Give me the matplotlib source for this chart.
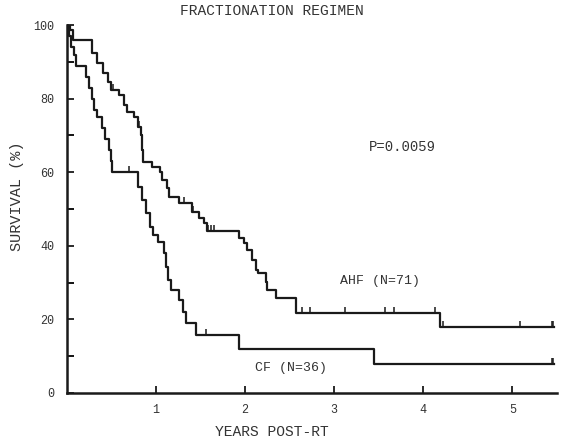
import numpy as np
import matplotlib.pyplot as plt
from matplotlib.path import Path

plt.rcParams['font.family'] = ['Liberation Mono', 'DejaVu Sans']

# step curves: time of each drop (years) and survival level after it (%)
ahf_t = [0.00, 0.03, 0.07, 0.28, 0.34, 0.40, 0.46, 0.50, 0.58, 0.64, 0.67, 0.75,
         0.80, 0.83, 0.84, 0.85, 0.95, 1.04, 1.07, 1.12, 1.15, 1.26, 1.40, 1.48,
         1.54, 1.57, 1.93, 1.99, 2.02, 2.08, 2.12, 2.15, 2.23, 2.25, 2.35, 2.57, 4.19]
ahf_s = [100, 98.6, 96, 92.4, 89.7, 87, 84.5, 82.3, 81, 78.3, 76.4, 75,
         72.3, 70, 66, 62.8, 61.4, 60, 57.9, 55.7, 53.3, 51.6, 49.2, 47.5,
         46.2, 44, 42.1, 40.8, 38.9, 36.1, 33.4, 32.6, 30.2, 28, 25.8, 21.7, 17.9]
ahf_cens = [0.52, 0.81, 1.32, 1.41, 1.58, 1.62, 1.65, 2.64, 2.73, 3.12, 3.57,
            3.67, 4.13, 4.22, 5.09, 5.44, 5.46]

cf_t = [0.00, 0.02, 0.05, 0.08, 0.10, 0.22, 0.25, 0.28, 0.31, 0.34, 0.39, 0.43,
        0.47, 0.50, 0.51, 0.80, 0.84, 0.89, 0.93, 0.97, 1.02, 1.09, 1.11, 1.13,
        1.17, 1.26, 1.30, 1.34, 1.45, 1.93, 3.45]
cf_s = [100, 97, 94, 92, 89, 86, 83, 80, 77, 75, 72, 69,
        66, 63, 60, 56, 52.4, 48.9, 45.1, 43, 41, 38, 34.2, 30.7,
        28, 25.3, 22, 19, 15.8, 12, 7.9]
cf_cens = [0.70, 1.56, 5.44, 5.46]

t_end = 5.47
xticks = [1, 2, 3, 4, 5]
yticks = [0, 20, 40, 60, 80, 100]
yminor = [10, 30, 50, 70, 90]

fig = plt.figure(figsize=(5.62, 4.40), dpi=100)
ax = fig.add_axes([0.119, 0.107, 0.872, 0.836])

up_tick = Path([(0, 0), (0, 1)], [Path.MOVETO, Path.LINETO])


def level_at(t, times, levels):
    i = np.searchsorted(times, t, side='right') - 1
    return levels[i]


for times, levels, cens in [(ahf_t, ahf_s, ahf_cens), (cf_t, cf_s, cf_cens)]:
    ax.step(times + [t_end], levels + [levels[-1]], where='post',
            color='#1a1a1a', lw=1.6)
    cy = [level_at(c, times, levels) for c in cens]
    ax.plot(cens, cy, ls='none', marker=up_tick, ms=9, mew=1.1, color='#1a1a1a')

ax.set_xlim(0, 5.5)
ax.set_ylim(0, 100)
ax.spines['top'].set_visible(False)
ax.spines['right'].set_visible(False)
ax.spines['left'].set_linewidth(1.8)
ax.spines['bottom'].set_linewidth(1.8)
ax.spines['left'].set_color('#1a1a1a')
ax.spines['bottom'].set_color('#1a1a1a')

ax.set_xticks(xticks)
ax.set_yticks(yticks)
ax.set_yticks(yminor, minor=True)
ax.tick_params(axis='both', direction='in', length=5, width=1.3, colors='#1a1a1a',
               labelsize=8.5, labelcolor='#333333')
ax.tick_params(axis='x', pad=8)
ax.tick_params(axis='y', pad=9)
ax.tick_params(axis='y', which='minor', direction='in', length=5, width=1.3)

ax.text(3.39, 66.8, 'P=0.0059', fontsize=10, color='#333333', va='center')
ax.text(3.07, 30.4, 'AHF (N=71)', fontsize=9.5, color='#333333', va='center')
ax.text(2.11, 6.8, 'CF (N=36)', fontsize=9.5, color='#333333', va='center')

fig.text(0.483, 0.975, 'FRACTIONATION REGIMEN', fontsize=10.5, color='#333333',
         ha='center', va='center')
fig.text(0.483, 0.018, 'YEARS POST-RT', fontsize=10.5, color='#333333',
         ha='center', va='center')
fig.text(0.030, 0.555, 'SURVIVAL (%)', fontsize=11, color='#333333',
         ha='center', va='center', rotation=90)

fig.savefig('out.png', dpi=100)
